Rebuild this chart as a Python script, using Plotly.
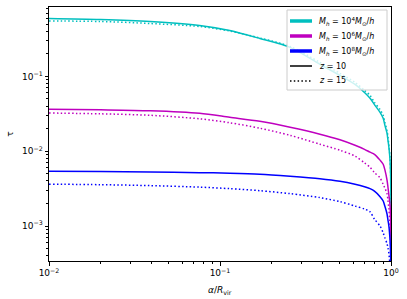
import numpy as np
import plotly.graph_objects as go

# radial coordinate alpha / R_vir
alpha = [0.01, 0.02, 0.039, 0.076, 0.114, 0.171, 0.257, 0.384, 0.503, 0.616, 0.70, 0.754,
         0.80, 0.863, 0.90, 0.922, 0.948, 0.96, 0.972, 0.987, 0.995, 0.9995, 0.99999, 1.0]

# tau values, M_h = 1e4, 1e6, 1e8 Msun/h ; z = 10 (solid) and z = 15 (dotted)
tau_m4_z10 = [0.593, 0.575, 0.541, 0.479, 0.410, 0.321, 0.244, 0.145, 0.103, 0.078, 0.061, 0.051,
              0.042, 0.033, 0.0275, 0.022, 0.0174, 0.014, 0.0113, 0.0076, 0.0047, 0.0015, 0.0002, 1e-6]
tau_m4_z15 = [0.550, 0.541, 0.509, 0.464, 0.404, 0.326, 0.251, 0.154, 0.110, 0.083, 0.065, 0.0558,
              0.045, 0.036, 0.0302, 0.024, 0.019, 0.0154, 0.0122, 0.0081, 0.005, 0.0016, 0.0002, 1e-6]
tau_m6_z10 = [0.0363, 0.0357, 0.0347, 0.0321, 0.0284, 0.0251, 0.0209, 0.0169, 0.0142, 0.0120, 0.0106, 0.0097,
              0.0091, 0.0076, 0.0067, 0.0056, 0.0041, 0.0033, 0.0026, 0.0019, 0.0012, 0.00037, 0.00005, 1e-7]
tau_m6_z15 = [0.0324, 0.0316, 0.0302, 0.0271, 0.0240, 0.0203, 0.0163, 0.0124, 0.0103, 0.0086, 0.0070, 0.0061,
              0.0052, 0.0044, 0.0036, 0.0032, 0.0027, 0.0022, 0.0017, 0.0010, 0.0006, 0.0002, 0.00003, 1e-7]
tau_m8_z10 = [0.00541, 0.00536, 0.00528, 0.00517, 0.00509, 0.00494, 0.00464, 0.00430, 0.00398, 0.00363, 0.00336, 0.00316,
              0.00293, 0.00247, 0.00216, 0.00182, 0.00145, 0.0012, 0.00100, 0.00065, 0.00040, 0.00013, 0.00002, 1e-7]
tau_m8_z15 = [0.00363, 0.00357, 0.00347, 0.00331, 0.00316, 0.00297, 0.00271, 0.00240, 0.00212, 0.00185, 0.00169, 0.00155,
              0.00124, 0.00100, 0.00081, 0.00069, 0.00058, 0.00051, 0.00043, 0.00029, 0.00018, 0.00006, 0.00001, 1e-8]

mass_labels = ["<i>M</i><sub><i>h</i></sub> = 10<sup>4</sup><i>M</i><sub>⊙</sub>/<i>h</i>",
               "<i>M</i><sub><i>h</i></sub> = 10<sup>6</sup><i>M</i><sub>⊙</sub>/<i>h</i>",
               "<i>M</i><sub><i>h</i></sub> = 10<sup>8</sup><i>M</i><sub>⊙</sub>/<i>h</i>"]
z_labels = ["<i>z</i> = 10", "<i>z</i> = 15"]
colors = ["#00BFBF", "#BF00BF", "#0000FF"]

x_ticks = [0.01, 0.1, 1.0]
x_ticktext = ["10<sup>−2</sup>", "10<sup>−1</sup>", "10<sup>0</sup>"]
y_ticks = [1e-3, 1e-2, 1e-1]
y_ticktext = ["10<sup>−3</sup>", "10<sup>−2</sup>", "10<sup>−1</sup>"]

W, H = 407, 299
ML, MR, MT, MB = 49, 16, 7, 38
PW, PH = W - ML - MR, H - MT - MB


def px(xp):
    return (xp - ML) / PW


def py(yp):
    return 1 - (yp - MT) / PH


DOT = "1.5px,2.3px"
fig = go.Figure()
series = [(tau_m4_z10, tau_m4_z15), (tau_m6_z10, tau_m6_z15), (tau_m8_z10, tau_m8_z15)]
for (s10, s15), c in zip(series, colors):
    fig.add_trace(go.Scatter(x=alpha, y=s10, mode="lines",
                             line=dict(color=c, width=1.5, shape="spline", smoothing=0.8),
                             showlegend=False, hoverinfo="skip"))
    fig.add_trace(go.Scatter(x=alpha, y=s15, mode="lines",
                             line=dict(color=c, width=1.5, dash=DOT, shape="spline", smoothing=0.8),
                             showlegend=False, hoverinfo="skip"))

# manual legend (matplotlib-like compact layout)
fig.add_shape(type="rect", xref="paper", yref="paper", layer="above",
              x0=px(287), x1=px(387), y0=py(90), y1=py(10),
              fillcolor="rgba(255,255,255,0.8)", line=dict(color="#cccccc", width=1))
row_y = [21, 36, 51, 66, 81]
handles = [(colors[0], 3.5, "solid"), (colors[1], 3.5, "solid"), (colors[2], 3.5, "solid"),
           ("black", 1.5, "solid"), ("black", 1.5, DOT)]
labels = mass_labels + z_labels
for ry, (hc, hw, hd), lab in zip(row_y, handles, labels):
    fig.add_shape(type="line", xref="paper", yref="paper", layer="above",
                  x0=px(290), x1=px(312), y0=py(ry), y1=py(ry),
                  line=dict(color=hc, width=hw, dash=hd))
    fig.add_annotation(text=lab, xref="paper", yref="paper", x=px(317), y=py(ry),
                       xanchor="left", yanchor="middle", showarrow=False,
                       font=dict(family="DejaVu Sans", size=8, color="black"))

minor_x = [m * 10.0 ** e for e in (-2, -1) for m in range(2, 10)]
minor_y = [m * 10.0 ** e for e in (-4, -3, -2, -1) for m in range(2, 10)]

axis_common = dict(showgrid=False, zeroline=False, showline=True, linecolor="black", linewidth=1,
                   mirror=True, ticks="outside", ticklen=3.5, tickwidth=1, tickcolor="black",
                   tickfont=dict(family="DejaVu Sans", size=9, color="black"))
fig.update_xaxes(type="log", range=[-2, 0], tickvals=x_ticks, ticktext=x_ticktext,
                 minor=dict(tickvals=minor_x, ticks="outside", ticklen=2, tickwidth=0.8, tickcolor="black"),
                 **axis_common)
fig.update_yaxes(type="log", range=[-3.467, -0.073], tickvals=y_ticks, ticktext=y_ticktext,
                 minor=dict(tickvals=minor_y, ticks="outside", ticklen=2, tickwidth=0.8, tickcolor="black"),
                 **axis_common)

fig.add_annotation(text="<i>α</i>/<i>R</i><sub>vir</sub>", xref="paper", yref="paper", x=0.5, y=-0.085,
                   xanchor="center", yanchor="top", showarrow=False,
                   font=dict(family="DejaVu Sans", size=9, color="black"))
fig.add_annotation(text="τ", xref="paper", yref="paper", x=-0.115, y=0.5, textangle=-90,
                   xanchor="center", yanchor="middle", showarrow=False,
                   font=dict(family="DejaVu Sans", size=9, color="black"))

fig.update_layout(
    width=W, height=H,
    margin=dict(l=ML, r=MR, t=MT, b=MB),
    paper_bgcolor="white", plot_bgcolor="white",
    font=dict(family="DejaVu Sans", size=9, color="black"),
    showlegend=False,
)
fig.write_html("out.html", config={"displayModeBar": False},
               post_script="document.body.style.margin='0';document.body.style.padding='0';")
